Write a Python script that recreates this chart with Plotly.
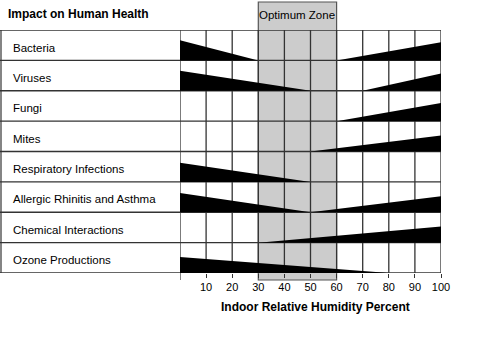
import plotly.graph_objects as go

# Health effects listed top to bottom
effects = [
    "Bacteria",
    "Viruses",
    "Fungi",
    "Mites",
    "Respiratory Infections",
    "Allergic Rhinitis and Asthma",
    "Chemical Interactions",
    "Ozone Productions",
]

# Wedge falling from 0 % RH to the humidity where the effect vanishes (None = no wedge)
low_end = [30, 50, None, None, 50, 50, None, 80]
low_height = [0.66, 0.66, None, None, 0.63, 0.63, None, 0.53]

# Wedge rising from the humidity where the effect starts up to 100 % RH
high_start = [60, 70, 60, 50, None, 50, 30, None]
high_height = [0.60, 0.57, 0.60, 0.53, None, 0.53, 0.53, None]

optimum_zone = (30, 60)
tick_values = [10, 20, 30, 40, 50, 60, 70, 80, 90, 100]
grid_values = [0, 10, 20, 30, 40, 50, 60, 70, 80, 90, 100]
x_range = (0, 100)

LINE = "#333333"
FONT = "Liberation Sans, Arial, sans-serif"

W, H = 485, 340
ML, MR, MT, MB = 180, 44, 30, 67
plot_w = W - ML - MR
plot_h = H - MT - MB


def px_to_paper_x(px):
    return (px - ML) / plot_w


def px_to_paper_y(py):
    return (H - MB - py) / plot_h


fig = go.Figure()

n = len(effects)
# black wedges; row i occupies y in [i, i+1] (axis reversed so row 0 is on top)
for i in range(n):
    base = i + 1
    if low_end[i] is not None:
        fig.add_trace(go.Scatter(
            x=[x_range[0], x_range[0], low_end[i], x_range[0]],
            y=[base, base - low_height[i], base, base],
            mode="lines", fill="toself", fillcolor="black",
            line=dict(width=0, color="black"), hoverinfo="skip", showlegend=False,
        ))
    if high_start[i] is not None:
        fig.add_trace(go.Scatter(
            x=[high_start[i], x_range[1], x_range[1], high_start[i]],
            y=[base, base - high_height[i], base, base],
            mode="lines", fill="toself", fillcolor="black",
            line=dict(width=0, color="black"), hoverinfo="skip", showlegend=False,
        ))

shapes = []
# optimum humidity band, extending above the grid to hold its caption
shapes.append(dict(
    type="rect", xref="x", yref="paper",
    x0=optimum_zone[0], x1=optimum_zone[1],
    y0=px_to_paper_y(280), y1=px_to_paper_y(2),
    fillcolor="#cccccc", line=dict(color="#555555", width=1.2), layer="below",
))
# vertical grid lines every 10 %
for g in grid_values:
    shapes.append(dict(
        type="line", xref="x", yref="y", x0=g, x1=g, y0=0, y1=n,
        line=dict(color=LINE, width=1.3), layer="below",
    ))
# row separators running across the label column and the grid
for r in range(n + 1):
    shapes.append(dict(
        type="line", xref="paper", yref="y",
        x0=px_to_paper_x(0), x1=1, y0=r, y1=r,
        line=dict(color=LINE, width=1.3), layer="below",
    ))
# left border of the label column
shapes.append(dict(
    type="line", xref="paper", yref="y",
    x0=px_to_paper_x(1), x1=px_to_paper_x(1), y0=0, y1=n,
    line=dict(color=LINE, width=1.2), layer="below",
))
# longer tick at the origin
shapes.append(dict(
    type="line", xref="x", yref="paper",
    x0=x_range[0], x1=x_range[0], y0=0, y1=px_to_paper_y(280),
    line=dict(color=LINE, width=1.2),
))

annotations = []
for i, name in enumerate(effects):
    annotations.append(dict(
        text=name, xref="paper", yref="y", x=px_to_paper_x(11), y=i + 0.58,
        xanchor="left", yanchor="middle", showarrow=False,
        font=dict(family=FONT, size=11.5, color="black"),
    ))
annotations.append(dict(
    text="Impact on Human Health", xref="paper", yref="paper",
    x=px_to_paper_x(6), y=px_to_paper_y(14), xanchor="left", yanchor="middle",
    showarrow=False, font=dict(family=FONT, size=12, color="black", weight="bold"),
))
annotations.append(dict(
    text="Optimum Zone", xref="x", yref="paper",
    x=sum(optimum_zone) / 2, y=px_to_paper_y(15), xanchor="center", yanchor="middle",
    showarrow=False, font=dict(family=FONT, size=11.5, color="black"),
))
annotations.append(dict(
    text="Indoor Relative Humidity Percent", xref="paper", yref="paper",
    x=px_to_paper_x(315), y=px_to_paper_y(307), xanchor="center", yanchor="middle",
    showarrow=False, font=dict(family=FONT, size=12, color="black", weight="bold"),
))

fig.update_layout(
    width=W, height=H, autosize=False,
    margin=dict(l=ML, r=MR, t=MT, b=MB),
    paper_bgcolor="white", plot_bgcolor="white",
    showlegend=False,
    shapes=shapes, annotations=annotations,
    xaxis=dict(
        range=list(x_range), tickvals=tick_values, ticktext=[str(t) for t in tick_values],
        ticks="outside", ticklen=4, tickcolor=LINE, tickwidth=1,
        showgrid=False, zeroline=False, showline=False,
        tickfont=dict(family=FONT, size=11, color="black"), fixedrange=True,
    ),
    yaxis=dict(
        range=[n, 0], showticklabels=False, ticks="", showgrid=False,
        zeroline=False, showline=False, fixedrange=True,
    ),
)

fig.write_html("out.html")
